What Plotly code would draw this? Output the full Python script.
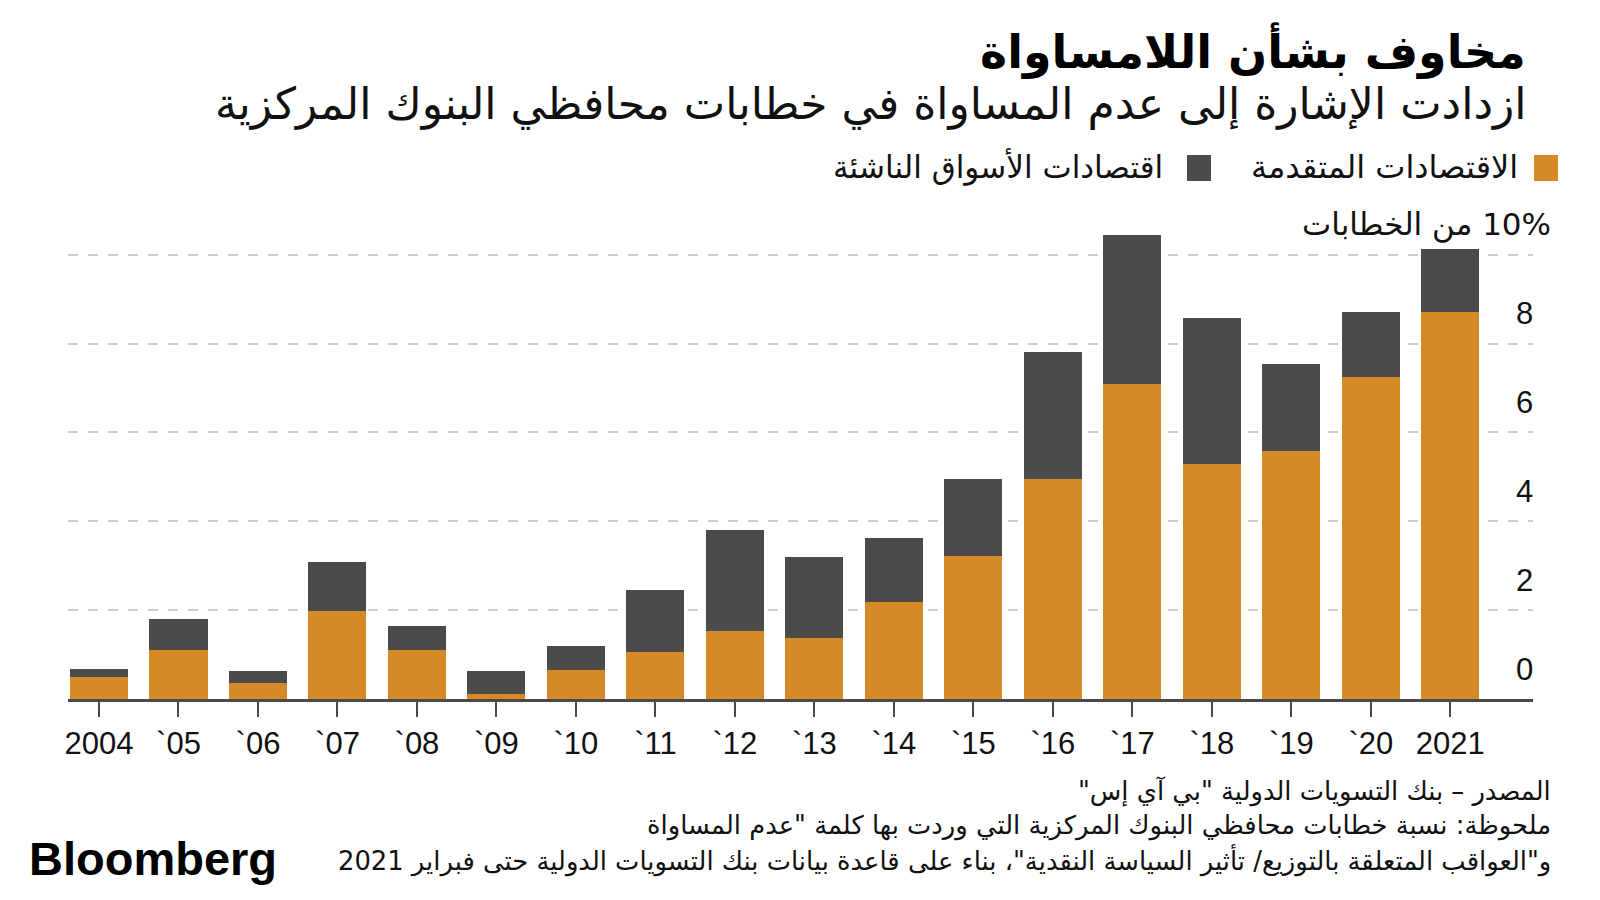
import plotly.graph_objects as go

# ---------------- data ----------------
years = ["2004", "`05", "`06", "`07", "`08", "`09", "`10", "`11", "`12",
         "`13", "`14", "`15", "`16", "`17", "`18", "`19", "`20", "2021"]
advanced = [0.49, 1.10, 0.36, 1.97, 1.11, 0.11, 0.65, 1.06, 1.53,
            1.38, 2.19, 3.21, 4.95, 7.10, 5.29, 5.58, 7.24, 8.72]
totals = [0.68, 1.80, 0.63, 3.08, 1.64, 0.64, 1.20, 2.45, 3.80,
          3.20, 3.63, 4.95, 7.81, 10.45, 8.57, 7.55, 8.72, 10.12]
emerging = [round(t - a, 2) for t, a in zip(totals, advanced)]
ytick_vals = [0, 2, 4, 6, 8]

title = "مخاوف بشأن اللامساواة"
subtitle = "ازدادت الإشارة إلى عدم المساواة في خطابات محافظي البنوك المركزية"
legend_names = ["الاقتصادات المتقدمة", "اقتصادات الأسواق الناشئة"]
yunit = "10% من الخطابات"
foot_lines = [
    "المصدر – بنك التسويات الدولية \"بي آي إس\"",
    "ملحوظة: نسبة خطابات محافظي البنوك المركزية التي وردت بها كلمة \"عدم المساواة",
    "و\"العواقب المتعلقة بالتوزيع/ تأثير السياسة النقدية\"، بناء على قاعدة بيانات بنك التسويات الدولية حتى فبراير 2021",
]

ORANGE = "#d68a27"
GREY = "#4b4b4b"
AR_FONT = "DejaVu Sans"
NUM_FONT = "Liberation Sans Narrow, Arial Narrow, Liberation Sans, sans-serif"

W, H = 1600, 900
L, R, T, B = 68, 1533, 228, 699


def px(xp):
    return (xp - L) / (R - L)


def py(yp):
    return (B - yp) / (B - T)


def rtl(s):
    return "\u202b" + s + "\u202c"


fig = go.Figure()
fig.add_trace(go.Bar(x=years, y=advanced, name=legend_names[0],
                     marker=dict(color=ORANGE, line=dict(width=0))))
fig.add_trace(go.Bar(x=years, y=emerging, name=legend_names[1],
                     marker=dict(color=GREY, line=dict(width=0))))

ann = []
# y tick labels sitting above their gridlines
for v in ytick_vals:
    ann.append(dict(x=px(1524), y=v, xref="paper", yref="y", yshift=30,
                    text=str(v), showarrow=False, xanchor="center", yanchor="middle",
                    font=dict(family=NUM_FONT, size=31, color="#111111")))
ann.append(dict(x=px(1553), y=10, xref="paper", yref="y", yshift=30,
                text=rtl(yunit), showarrow=False, xanchor="right", yanchor="middle",
                font=dict(family=AR_FONT, size=31, color="#111111")))
# title / subtitle
ann.append(dict(x=px(1528), y=py(50), xref="paper", yref="paper", text="<b>" + rtl(title) + "</b>",
                showarrow=False, xanchor="right", yanchor="middle",
                font=dict(family=AR_FONT, size=46, color="#000000")))
ann.append(dict(x=px(1528), y=py(104), xref="paper", yref="paper", text=rtl(subtitle),
                showarrow=False, xanchor="right", yanchor="middle",
                font=dict(family=AR_FONT, size=44, color="#111111")))
# legend labels
ann.append(dict(x=px(1520), y=py(167), xref="paper", yref="paper", text=rtl(legend_names[0]),
                showarrow=False, xanchor="right", yanchor="middle",
                font=dict(family=AR_FONT, size=32, color="#111111")))
ann.append(dict(x=px(1165), y=py(167), xref="paper", yref="paper", text=rtl(legend_names[1]),
                showarrow=False, xanchor="right", yanchor="middle",
                font=dict(family=AR_FONT, size=31, color="#111111")))
# footer
for line, yy in zip(foot_lines, [791, 825, 860]):
    ann.append(dict(x=px(1553), y=py(yy), xref="paper", yref="paper", text=rtl(line),
                    showarrow=False, xanchor="right", yanchor="middle",
                    font=dict(family=AR_FONT, size=25.8, color="#111111")))
ann.append(dict(x=px(27), y=py(858), xref="paper", yref="paper", text="<b>Bloomberg</b>",
                showarrow=False, xanchor="left", yanchor="middle",
                font=dict(family="Liberation Sans, Arial, sans-serif", size=47, color="#000000")))

shapes = [
    dict(type="rect", xref="paper", yref="paper", x0=px(1534), x1=px(1558),
         y0=py(155), y1=py(181), fillcolor=ORANGE, line=dict(width=0)),
    dict(type="rect", xref="paper", yref="paper", x0=px(1187), x1=px(1211),
         y0=py(155), y1=py(181), fillcolor=GREY, line=dict(width=0)),
]

fig.update_layout(
    width=W, height=H, autosize=False,
    margin=dict(l=L, r=W - R, t=T, b=H - B, pad=0),
    paper_bgcolor="white", plot_bgcolor="white",
    barmode="stack", bargap=0.27, showlegend=False,
    annotations=ann, shapes=shapes,
    xaxis=dict(type="category", range=[-0.39, 18.04], showgrid=False,
               showline=True, linecolor="#4a4a4a", linewidth=2.5,
               ticks="outside", ticklen=15, tickwidth=2, tickcolor="#4a4a4a",
               ticklabelstandoff=0,
               tickfont=dict(family=NUM_FONT, size=31, color="#111111"),
               zeroline=False, fixedrange=True),
    yaxis=dict(range=[0, 10.6], tickvals=[2, 4, 6, 8, 10], showticklabels=False,
               showgrid=True, gridcolor="#cccccc", gridwidth=1.5, griddash="10px,10px",
               zeroline=False, showline=False, fixedrange=True),
)

fig.write_html("out.html")
